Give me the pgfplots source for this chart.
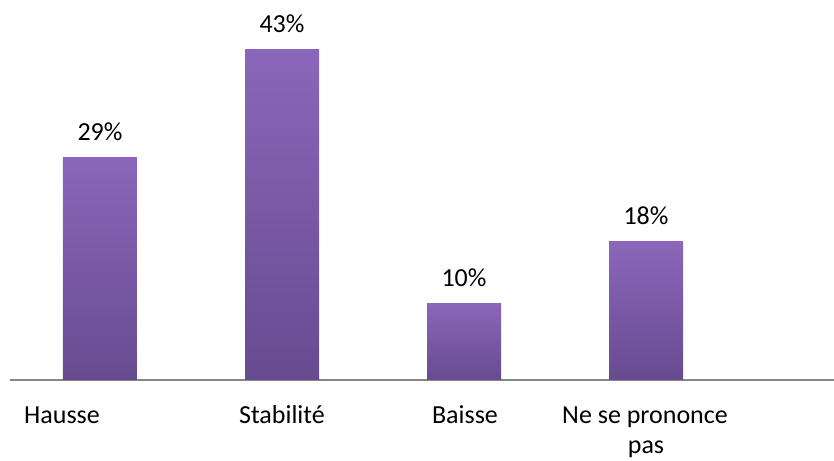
\documentclass[border=0pt]{standalone}
\usepackage{pgfplots}
\pgfplotsset{compat=1.18}
\usepackage{fontspec}
\setmainfont{Carlito}
\definecolor{bartop}{HTML}{8B66BA}
\definecolor{barbot}{HTML}{674B90}
\definecolor{axisgray}{HTML}{878787}
\begin{document}
\begin{tikzpicture}
\begin{axis}[
  at={(0,0)}, anchor=south west,
  scale only axis,
  width=824bp, height=380bp,
  xmin=-0.4945, xmax=4.033,
  ymin=0, ymax=49.5,
  axis x line=bottom, axis y line=none,
  x axis line style={draw=axisgray, line width=1.6bp, -},
  xtick=\empty, ytick=\empty,
  ybar, bar width=74bp, bar shift=0pt,
  clip=false,
  /pgf/number format/assume math mode=true,
  nodes near coords={\pgfmathprintnumber{\pgfplotspointmeta}\%},
  nodes near coords style={anchor=base, yshift=17bp, font=\fontsize{26bp}{31bp}\selectfont, text=black},
  every axis plot/.append style={draw=none, top color=bartop, bottom color=barbot},
]
\addplot coordinates {(0,29)};
\addplot coordinates {(1,43)};
\addplot coordinates {(2,10)};
\addplot coordinates {(3,18)};
\end{axis}
\begin{scope}[every node/.style={anchor=base, font=\fontsize{26bp}{31bp}\selectfont, inner sep=0pt}]
\node at (52bp,-43bp) {Hausse};
\node at (272bp,-43bp) {Stabilité};
\node at (455bp,-43bp) {Baisse};
\node at (635bp,-43bp) {Ne se prononce};
\node at (636bp,-73bp) {pas};
\end{scope}
\pgfresetboundingbox
\useasboundingbox (-10bp,-81bp) rectangle (824bp,380bp);
\end{tikzpicture}
\end{document}
